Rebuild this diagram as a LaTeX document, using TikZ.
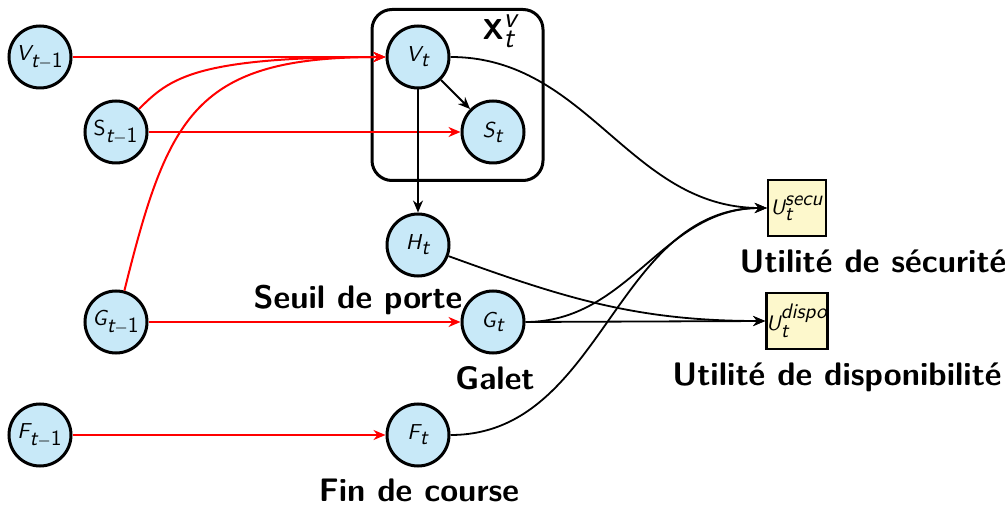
\documentclass[tikz,border=0pt]{standalone}
\usepackage{fontspec}
\usetikzlibrary{arrows.meta}
\renewcommand{\familydefault}{\sfdefault}
\definecolor{nodeblue}{HTML}{C8E9F8}
\definecolor{utilyellow}{HTML}{FDF8CC}
\newcommand{\sv}[1]{\textsf{\itshape #1}}
\begin{document}
\begin{tikzpicture}[x=0.5pt,y=-0.5pt,
  varnode/.style={circle,draw=black,line width=1.5pt,fill=nodeblue,minimum size=31pt,inner sep=0pt,font=\fontsize{10.8}{13}\selectfont},
  utilnode/.style={rectangle,draw=black,line width=1.2pt,fill=utilyellow,minimum width=29pt,minimum height=28pt,inner sep=0pt,font=\fontsize{10.5}{13}\selectfont},
  redarrow/.style={draw=red,line width=1pt,-{Stealth[length=6pt,width=5pt]}},
  blackarrow/.style={draw=black,line width=0.9pt,-{Stealth[length=6pt,width=5pt]}},
  biglabel/.style={font=\fontsize{16.3}{19}\selectfont\bfseries,inner sep=0pt}
]
\useasboundingbox (0,0) rectangle (1005,507);
% container
\node[draw=black,line width=1.5pt,rounded corners=10pt,minimum width=85.5pt,minimum height=85.5pt,inner sep=0pt] (box) at (457.5,95) {};
\node[font=\Large,inner sep=0pt] (boxlabel) at (500,31) {$\textsf{\bfseries X}_{\sv{t}}^{\sv{v}}$};
% nodes
\node[varnode] (Vp) at (40,57) {$\sv{V}_{\sv{t}-\textsf{1}}$};
\node[varnode] (Sp) at (116,132) {$\textsf{S}_{\sv{t}-\textsf{1}}$};
\node[varnode] (Gp) at (116,322) {$\sv{G}_{\sv{t}-\textsf{1}}$};
\node[varnode] (Fp) at (40,435) {$\sv{F}_{\sv{t}-\textsf{1}}$};
\node[varnode] (V) at (418,57) {$\sv{V}_{\sv{t}}$};
\node[varnode] (S) at (493,132) {$\sv{S}_{\sv{t}}$};
\node[varnode] (H) at (418,245) {$\sv{H}_{\sv{t}}$};
\node[varnode] (G) at (493,322) {$\sv{G}_{\sv{t}}$};
\node[varnode] (F) at (418,435) {$\sv{F}_{\sv{t}}$};
\node[utilnode] (Us) at (797,208) {$\sv{U}_{\sv{t}}^{\sv{secu}}$};
\node[utilnode,minimum width=30pt] (Ud) at (797,321) {$\sv{U}_{\sv{t}}^{\sv{dispo}}$};
% labels
\node[biglabel] (lUs) at (873,262) {Utilité de sécurité};
\node[biglabel] (lUd) at (837,377) {Utilité de disponibilité};
\node[biglabel] (lG1) at (358,300) {Seuil de porte};
\node[biglabel] (lG2) at (495,378) {Galet};
\node[biglabel] (lF) at (419,490) {Fin de course};
% red arcs
\draw[redarrow] (Vp) -- (V);
\draw[redarrow] (Sp.45) .. controls (170,78) and (195,57) .. (V.west);
\draw[redarrow] (Gp.75) .. controls (168,115) and (195,57) .. (V.west);
\draw[redarrow] (Sp) -- (S);
\draw[redarrow] (Gp) -- (G);
\draw[redarrow] (Fp) -- (F);
% black arcs
\draw[blackarrow] (V) -- (S);
\draw[blackarrow] (V) -- (H);
\draw[blackarrow] (V.east) to[out=0,in=180] (Us.west);
\draw[blackarrow] (G.east) to[out=0,in=180] (Us.west);
\draw[blackarrow] (F.east) to[out=0,in=180] (Us.west);
\draw[blackarrow] (H.-20) to[out=-20,in=180] (Ud.west);
\draw[blackarrow] (G.east) -- (Ud.west);
\end{tikzpicture}
\end{document}
